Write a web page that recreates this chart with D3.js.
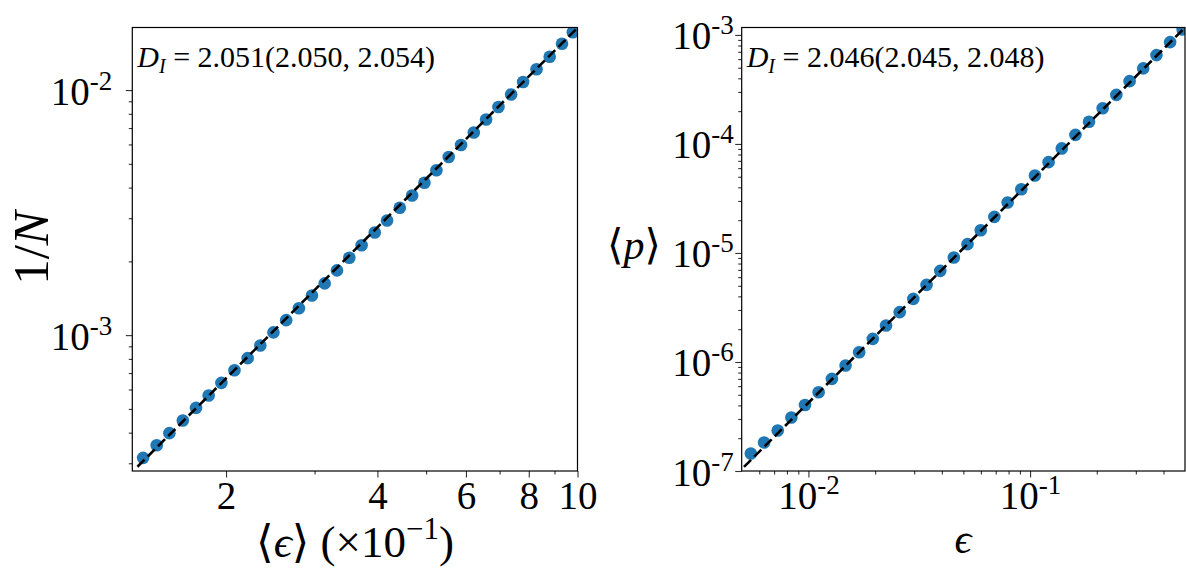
<!DOCTYPE html>
<html><head><meta charset="utf-8">
<script src="https://cdn.jsdelivr.net/npm/d3@7"></script>
<style>
body{margin:0;background:#fff;}
svg{display:block;}
text{font-family:"Liberation Serif","DejaVu Serif",serif;fill:#000;}
</style></head><body>
<svg id="c" width="1186" height="571"></svg>
<script>
// ---------- data (left panel: 1/N vs <eps> (x10^-1)) ----------
const leftX=[1.368,1.456,1.543,1.641,1.743,1.847,1.958,2.079,2.208,2.340,2.485,2.634,2.792,2.964,3.142,3.324,3.517,3.721,3.952,4.181,4.432,4.689,4.961,5.241,5.545,5.867,6.219,6.580,6.963,7.379,7.795,8.290,8.805,9.316,9.788];
const leftY=[3.157e-4,3.556e-4,3.981e-4,4.487e-4,5.047e-4,5.675e-4,6.383e-4,7.194e-4,8.054e-4,9.078e-4,1.026e-3,1.151e-3,1.288e-3,1.452e-3,1.626e-3,1.837e-3,2.070e-3,2.328e-3,2.624e-3,2.938e-3,3.311e-3,3.715e-3,4.188e-3,4.710e-3,5.333e-3,5.970e-3,6.714e-3,7.586e-3,8.531e-3,9.594e-3,1.079e-2,1.216e-2,1.368e-2,1.545e-2,1.722e-2];
const leftFitX=[1.333,10];
const leftFitY=[2.904e-4,1.795e-2];
const leftXDomain=[1.302,10];
const leftYDomain=[2.79e-4,1.8e-2];
const leftXMajor=[2,4,6,8,10];
const leftXMinor=[3,5,7,9];
const leftXLabels=["2","4","6","8","10"];
const leftYMajor=[1e-3,1e-2];
const leftYMinor=[3e-4,4e-4,5e-4,6e-4,7e-4,8e-4,9e-4,2e-3,3e-3,4e-3,5e-3,6e-3,7e-3,8e-3,9e-3];
const leftYLabels=["-3","-2"];
const leftNote=["2.051","2.050","2.054"];

// ---------- data (right panel: <p> vs eps) ----------
const rightX=[5.497e-3,6.310e-3,7.270e-3,8.378e-3,9.652e-3,1.112e-2,1.276e-2,1.471e-2,1.694e-2,1.952e-2,2.240e-2,2.581e-2,2.973e-2,3.412e-2,3.933e-2,4.530e-2,5.220e-2,5.991e-2,6.902e-2,7.922e-2,9.128e-2,1.052e-1,1.212e-1,1.390e-1,1.602e-1,1.845e-1,2.126e-1,2.450e-1,2.812e-1,3.240e-1,3.718e-1,4.284e-1,4.879e-1];
const rightY=[1.445e-7,1.824e-7,2.355e-7,3.097e-7,4.036e-7,5.284e-7,6.998e-7,9.290e-7,1.230e-6,1.629e-6,2.163e-6,2.864e-6,3.793e-6,5.093e-6,6.855e-6,9.099e-6,1.205e-5,1.618e-5,2.143e-5,2.904e-5,3.846e-5,5.140e-5,6.808e-5,9.099e-5,1.211e-4,1.596e-4,2.128e-4,2.818e-4,3.767e-4,4.932e-4,6.531e-4,8.590e-4,1.122e-3];
const rightFitX=[5.12e-3,0.5];
const rightFitY=[1.09e-7,1.17e-3];
const rightXDomain=[0.005,0.5];
const rightYDomain=[1e-7,1.17e-3];
const rightXMajor=[0.01,0.1];
const rightXMinor=[6e-3,7e-3,8e-3,9e-3,0.02,0.03,0.04,0.05,0.06,0.07,0.08,0.09,0.2,0.3,0.4];
const rightXLabels=["-2","-1"];
const rightYMajor=[1e-7,1e-6,1e-5,1e-4,1e-3];
const rightYMinor=[];
[1e-7,1e-6,1e-5,1e-4].forEach(d=>{for(let k=2;k<=9;k++) rightYMinor.push(d*k);});
const rightYLabels=["-7","-6","-5","-4","-3"];
const rightNote=["2.046","2.045","2.048"];

const BLUE="#1f77b4";
const svg=d3.select("#c");
const TICKF=39, SUPF=27;

function supLabel(sel, exps){
  sel.each(function(d,i){
    const t=d3.select(this); t.text(null);
    t.append("tspan").text("10");
    t.append("tspan").attr("font-size",SUPF).attr("dy",-15).text(exps[i]);
  });
}

function panel(o){
  const x=d3.scaleLog().domain(o.xd).range([o.x0,o.x1]);
  const y=d3.scaleLog().domain(o.yd).range([o.y1,o.y0]);
  const g=svg.append("g");
  const cid="clip"+o.id;
  g.append("clipPath").attr("id",cid).append("rect")
    .attr("x",o.x0).attr("y",o.y0).attr("width",o.x1-o.x0).attr("height",o.y1-o.y0);
  const pg=g.append("g").attr("clip-path",`url(#${cid})`);
  pg.selectAll("circle").data(o.px.map((v,i)=>[v,o.py[i]])).enter().append("circle")
    .attr("cx",d=>x(d[0])).attr("cy",d=>y(d[1])).attr("r",6.3).attr("fill",BLUE);
  pg.append("path").datum(o.fx.map((v,i)=>[v,o.fy[i]]))
    .attr("d",d3.line().x(d=>x(d[0])).y(d=>y(d[1])))
    .attr("fill","none").attr("stroke","#000").attr("stroke-width",2.6).attr("stroke-dasharray","10,4.5");
  const gxm=g.append("g").attr("transform",`translate(0,${o.y1})`)
    .call(d3.axisBottom(x).tickValues(o.xminor).tickSize(3.5).tickFormat(""));
  const gym=g.append("g").attr("transform",`translate(${o.x0},0)`)
    .call(d3.axisLeft(y).tickValues(o.yminor).tickSize(3.5).tickFormat(""));
  const gx=g.append("g").attr("transform",`translate(0,${o.y1})`)
    .call(d3.axisBottom(x).tickValues(o.xmajor).tickSize(6.5).tickFormat((d,i)=>o.xlab?o.xlab[i]:""));
  const gy=g.append("g").attr("transform",`translate(${o.x0},0)`)
    .call(d3.axisLeft(y).tickValues(o.ymajor).tickSize(6.5).tickFormat(""));
  [gxm,gym,gx,gy].forEach(a=>{a.select(".domain").remove();
    a.selectAll(".tick line").attr("stroke","#333").attr("stroke-width",1.1);});
  gx.selectAll("text").attr("font-size",TICKF).attr("font-family",null).attr("y",38).attr("dy",null);
  if(o.xsup) supLabel(gx.selectAll("text"),o.xsup);
  gy.selectAll("text").attr("font-size",TICKF).attr("font-family",null)
    .attr("x",-o.ypad).attr("y",14).attr("dy",null);
  supLabel(gy.selectAll("text"),o.ysup);
  g.append("rect").attr("x",o.x0).attr("y",o.y0).attr("width",o.x1-o.x0).attr("height",o.y1-o.y0)
    .attr("fill","none").attr("stroke","#000").attr("stroke-width",1.2);
  const n=g.append("text").attr("x",o.x0+5).attr("y",o.y0+39).attr("font-size",30);
  n.append("tspan").attr("font-style","italic").text("D");
  n.append("tspan").attr("font-style","italic").attr("font-size",20).attr("dy",6).text("I");
  n.append("tspan").attr("dy",-6).text(" = "+o.note[0]+"("+o.note[1]+", "+o.note[2]+")");
  return {x,y,g};
}

panel({id:"L",x0:132.3,x1:577.5,y0:27.5,y1:471,xd:leftXDomain,yd:leftYDomain,
  px:leftX,py:leftY,fx:leftFitX,fy:leftFitY,xmajor:leftXMajor,xminor:leftXMinor,xlab:leftXLabels,
  ymajor:leftYMajor,yminor:leftYMinor,ysup:leftYLabels,ypad:20,note:leftNote});
panel({id:"R",x0:741.7,x1:1185,y0:27.5,y1:471,xd:rightXDomain,yd:rightYDomain,
  px:rightX,py:rightY,fx:rightFitX,fy:rightFitY,xmajor:rightXMajor,xminor:rightXMinor,xsup:rightXLabels,
  ymajor:rightYMajor,yminor:rightYMinor,ysup:rightYLabels,ypad:8,note:rightNote});

const xl=svg.append("text").attr("x",355).attr("y",557).attr("text-anchor","middle").attr("font-size",45);
xl.append("tspan").text("\u27E8");
xl.append("tspan").attr("font-style","italic").text("\u03F5");
xl.append("tspan").text("\u27E9 (\u00D710");
xl.append("tspan").attr("font-size",31).attr("dy",-18).text("\u22121");
xl.append("tspan").attr("dy",18).text(")");

svg.append("text").attr("x",963).attr("y",553).attr("text-anchor","middle").attr("font-size",42)
  .attr("font-style","italic").text("\u03F5");

const yl=svg.append("text").attr("transform","translate(48,248) rotate(-90)").attr("text-anchor","middle").attr("font-size",51);
yl.append("tspan").text("1/");
yl.append("tspan").attr("font-style","italic").text("N");

const pl=svg.append("text").attr("x",634).attr("y",259).attr("text-anchor","middle").attr("font-size",42);
pl.append("tspan").text("\u27E8");
pl.append("tspan").attr("font-style","italic").text("p");
pl.append("tspan").text("\u27E9");
</script>
</body></html>
